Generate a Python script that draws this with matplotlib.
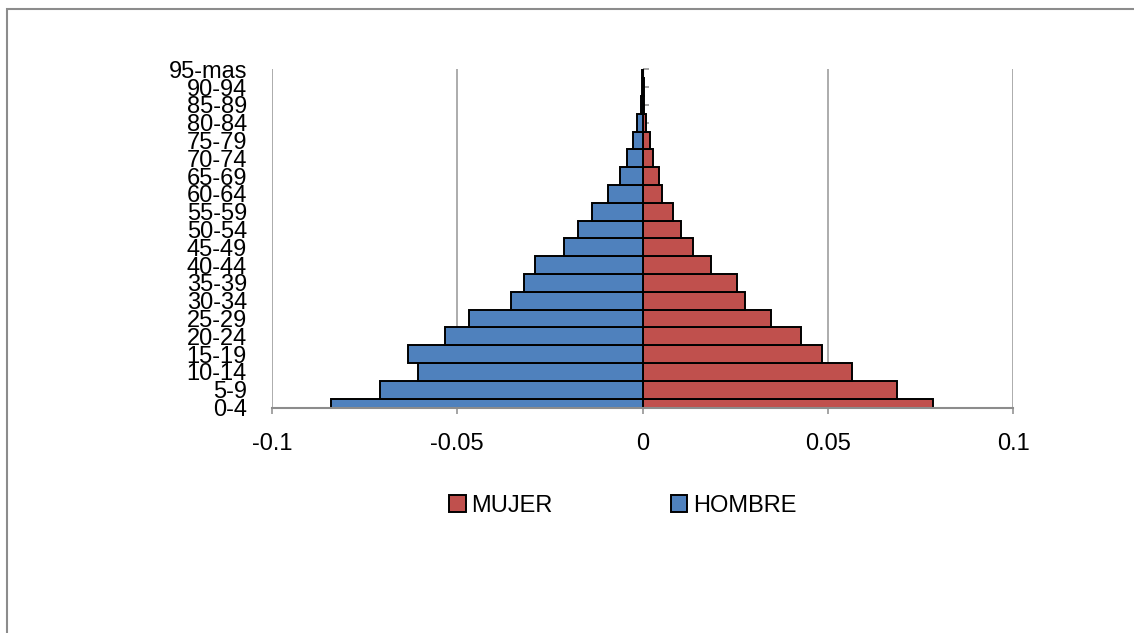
import numpy as np
import matplotlib
matplotlib.use("Agg")
import matplotlib.pyplot as plt
from matplotlib.patches import Rectangle

plt.rcParams['font.family'] = ['Liberation Sans Narrow', 'Liberation Sans', 'DejaVu Sans']

## DATA (bottom to top)
grupos = ['0-4', '5-9', '10-14', '15-19', '20-24', '25-29', '30-34', '35-39',
          '40-44', '45-49', '50-54', '55-59', '60-64', '65-69', '70-74',
          '75-79', '80-84', '85-89', '90-94', '95-mas']
hombre = [-0.0841, -0.0708, -0.0606, -0.0632, -0.0534, -0.0467, -0.0356, -0.0321,
          -0.0289, -0.0211, -0.0173, -0.0135, -0.0092, -0.0060, -0.0043,
          -0.0025, -0.0015, -0.0005, -0.0002, -0.0001]
mujer = [0.0784, 0.0688, 0.0565, 0.0485, 0.0429, 0.0346, 0.0276, 0.0256,
         0.0184, 0.0137, 0.0105, 0.0081, 0.0052, 0.0045, 0.0027,
         0.0020, 0.0010, 0.0004, 0.0003, 0.0001]
xticks = [-0.1, -0.05, 0, 0.05, 0.1]
xticklabels = ['-0.1', '-0.05', '0', '0.05', '0.1']

c_mujer = '#C0504D'
c_hombre = '#4F81BD'
gris = '#8C8C8C'
fs = 17

W, H = 1134, 633
fig = plt.figure(figsize=(W / 100, H / 100), dpi=100)
ax = fig.add_axes([272 / W, 1 - 407.5 / H, 741 / W, 338.2 / H])

y = np.arange(len(grupos))
ax.barh(y, mujer, height=1.0, color=c_mujer, edgecolor='black', linewidth=1.4,
        label='MUJER', zorder=2)
ax.barh(y, hombre, height=1.0, color=c_hombre, edgecolor='black', linewidth=1.4,
        label='HOMBRE', zorder=2)

ax.set_xlim(-0.1, 0.1)
ax.set_ylim(0, len(grupos) - 1)
ax.set_xticks(xticks)
ax.set_xticklabels(xticklabels)
ax.set_yticks(y)
ax.set_yticklabels(grupos)

ax.grid(axis='x', color='#A6A6A6', linewidth=1.3, zorder=0)
ax.set_axisbelow(True)
for s in ['top', 'right', 'left']:
    ax.spines[s].set_visible(False)
ax.spines['bottom'].set_color(gris)
ax.spines['bottom'].set_linewidth(1.5)

ax.tick_params(axis='x', direction='out', length=4.5, width=1.1, color=gris,
               labelsize=fs, pad=14)
ax.tick_params(axis='y', length=0, labelsize=fs, pad=18)

# vertical axis crossing at zero with its tick marks
sec = ax.secondary_yaxis(0.5)
sec.set_yticks(y)
sec.set_yticklabels([])
sec.spines['left'].set_color(gris)
sec.spines['left'].set_linewidth(1.6)
sec.tick_params(axis='y', direction='out', length=4.5, width=1.1, color=gris)

fig.legend(loc='center', bbox_to_anchor=(623 / W, 1 - 506 / H), ncol=2,
           frameon=False, fontsize=fs, handlelength=0.7, handleheight=0.7,
           handletextpad=0.25, columnspacing=5.0)

# chart area border
fig.patches.append(Rectangle((6.5 / W, -0.1), 1.2, 1.1 - 9 / H,
                             transform=fig.transFigure, fill=False,
                             edgecolor=gris, linewidth=1.5))

fig.savefig('out.png', dpi=100)
